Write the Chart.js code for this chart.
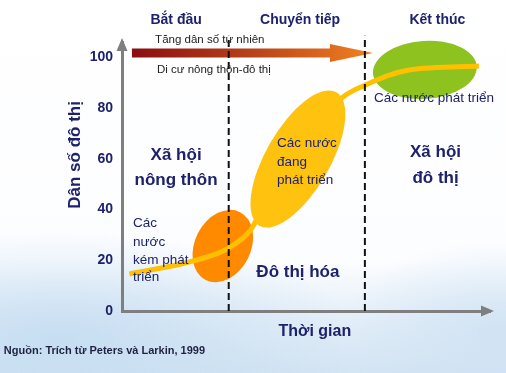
<!DOCTYPE html>
<html>
<head>
<meta charset="utf-8">
<script src="https://cdn.jsdelivr.net/npm/chart.js@4/dist/chart.umd.min.js"></script>
<style>
  html, body { margin: 0; padding: 0; }
  body {
    width: 506px; height: 373px; overflow: hidden;
    background:
      radial-gradient(ellipse 300px 110px at 60px 340px, rgba(196, 220, 241, 0.9) 0%, rgba(196, 220, 241, 0) 100%),
      radial-gradient(ellipse 160px 90px at 500px 330px, rgba(205, 225, 243, 0.8) 0%, rgba(205, 225, 243, 0) 100%),
      linear-gradient(to bottom, #ffffff 0%, #fcfdff 70%, #e6f0f9 84%, #d3e4f3 100%);
  }
  #wrap { position: relative; width: 506px; height: 373px; }
</style>
</head>
<body>
<div id="wrap"><canvas id="chart"></canvas></div>
<script>
// duong cong ty le dan so do thi theo thoi gian
const timeX = [2, 16, 24, 29, 35, 38, 48, 59, 66, 78, 97];
const urbanPct = [14.6, 18.5, 21.7, 24.8, 32, 40, 61, 83, 89, 95, 96.5];
const yTicks = [0, 20, 40, 60, 80, 100];
const phaseLines = [29, 66]; // ranh gioi cac giai doan

const navy = "#1d226b";
const sans = "'Liberation Sans', Arial, sans-serif";

// cac vung mau (toa do theo du lieu)
const blobs = [
  { x: 27.4, y: 25.6, rx: 38, ry: 28, rot: -63, color: "#ff8a00" },
  { x: 82.3, y: 95.0, rx: 52, ry: 29, rot: -4, color: "#8dc21f" },
  { x: 47.8, y: 59.9, rx: 77, ry: 32, rot: -60, color: "#ffc20e" },
];

// mui ten gradient
const arrow = { from: 2.7, body: 56.5, tip: 68.2, y: 101.7 };

// chu thich
const labels = [
  { t: "Bắt đầu", x: 14.7, y: 114.7, size: 14, bold: true, align: "center" },
  { t: "Chuyển tiếp", x: 48.4, y: 114.7, size: 14, bold: true, align: "center" },
  { t: "Kết thúc", x: 85.7, y: 114.7, size: 14, bold: true, align: "center" },
  { t: "Tăng dân số tự nhiên", x: 9.0, y: 106.8, size: 11.5, color: "#222", align: "left" },
  { t: "Di cư nông thôn-đô thị", x: 9.5, y: 95.2, size: 11.5, color: "#222", align: "left" },
  { t: "Xã hội", x: 14.7, y: 61.5, size: 17, bold: true, align: "center" },
  { t: "nông thôn", x: 14.7, y: 51.6, size: 17, bold: true, align: "center" },
  { t: "Xã hội", x: 85.2, y: 62.6, size: 17, bold: true, align: "center" },
  { t: "đô thị", x: 85.2, y: 52.4, size: 17, bold: true, align: "center" },
  { t: "Đô thị hóa", x: 47.8, y: 15.4, size: 17, bold: true, align: "center" },
  { t: "Các nước phát triển", x: 68.5, y: 83.9, size: 13.5, align: "left" },
  { t: "Các nước", x: 42.1, y: 66.2, size: 13.5, align: "left" },
  { t: "đang", x: 42.1, y: 58.7, size: 13.5, align: "left" },
  { t: "phát triển", x: 42.1, y: 51.6, size: 13.5, align: "left" },
  { t: "Các", x: 3.0, y: 34.7, size: 13.5, align: "left" },
  { t: "nước", x: 3.0, y: 27.2, size: 13.5, align: "left" },
  { t: "kém phát", x: 3.0, y: 20.1, size: 13.5, align: "left" },
  { t: "triển", x: 3.0, y: 13.4, size: 13.5, align: "left" },
  { t: "Thời gian", x: 52.4, y: -8.3, size: 16, bold: true, align: "center" },
  { t: "Nguồn: Trích từ Peters và Larkin, 1999", x: -32.1, y: -15.6, size: 11, bold: true, color: "#1e2240", align: "left" },
];
const yTitle = { t: "Dân số đô thị", x: -12.8, y: 61.5, size: 17 };

function drawBlob(chart, b) {
  const { ctx, scales } = chart;
  ctx.save();
  ctx.fillStyle = b.color;
  ctx.beginPath();
  ctx.ellipse(scales.x.getPixelForValue(b.x), scales.y.getPixelForValue(b.y),
    b.rx, b.ry, b.rot * Math.PI / 180, 0, Math.PI * 2);
  ctx.fill();
  ctx.restore();
}

const decor = {
  id: "decor",
  beforeDatasetsDraw(chart) {
    const { ctx, scales } = chart;
    const xs = scales.x, ys = scales.y;
    const x0 = xs.getPixelForValue(arrow.from);
    const x1 = xs.getPixelForValue(arrow.body);
    const x2 = xs.getPixelForValue(arrow.tip);
    const yc = ys.getPixelForValue(arrow.y);
    const g = ctx.createLinearGradient(x0, 0, x2, 0);
    g.addColorStop(0, "#890f10");
    g.addColorStop(0.5, "#b8421a");
    g.addColorStop(1, "#f28220");
    ctx.save();
    ctx.fillStyle = g;
    ctx.beginPath();
    ctx.moveTo(x0, yc - 4.5);
    ctx.lineTo(x1, yc - 4.5);
    ctx.lineTo(x1, yc - 9);
    ctx.lineTo(x2, yc);
    ctx.lineTo(x1, yc + 9);
    ctx.lineTo(x1, yc + 4.5);
    ctx.lineTo(x0, yc + 4.5);
    ctx.closePath();
    ctx.fill();
    ctx.restore();
    drawBlob(chart, blobs[0]);
    drawBlob(chart, blobs[1]);
  },
  afterDatasetDraw(chart, args) {
    if (args.index === 0) drawBlob(chart, blobs[2]);
  },
  afterDraw(chart) {
    const { ctx, scales, chartArea } = chart;
    const xs = scales.x, ys = scales.y;
    ctx.save();
    // dau mui ten truc
    ctx.fillStyle = "#7f7f7f";
    ctx.beginPath();
    ctx.moveTo(chartArea.left, chartArea.top - 4);
    ctx.lineTo(chartArea.left - 5.5, chartArea.top + 9);
    ctx.lineTo(chartArea.left + 5.5, chartArea.top + 9);
    ctx.closePath();
    ctx.fill();
    ctx.beginPath();
    ctx.moveTo(chartArea.right + 4, chartArea.bottom);
    ctx.lineTo(chartArea.right - 9, chartArea.bottom - 5.5);
    ctx.lineTo(chartArea.right - 9, chartArea.bottom + 5.5);
    ctx.closePath();
    ctx.fill();

    ctx.textBaseline = "middle";
    labels.forEach(l => {
      ctx.font = (l.bold ? "bold " : "") + l.size + "px " + sans;
      ctx.fillStyle = l.color || navy;
      ctx.textAlign = l.align;
      ctx.fillText(l.t, xs.getPixelForValue(l.x), ys.getPixelForValue(l.y));
    });

    ctx.translate(xs.getPixelForValue(yTitle.x), ys.getPixelForValue(yTitle.y));
    ctx.rotate(-Math.PI / 2);
    ctx.font = "bold " + yTitle.size + "px " + sans;
    ctx.fillStyle = navy;
    ctx.textAlign = "center";
    ctx.fillText(yTitle.t, 0, 0);
    ctx.restore();
  },
};

const ctx = document.getElementById("chart").getContext("2d");
const chart = new Chart(ctx, {
  type: "line",
  data: {
    datasets: [
      {
        label: "Dân số đô thị",
        data: timeX.map((x, i) => ({ x: x, y: urbanPct[i] })),
        borderColor: "#ffc000",
        borderWidth: 5,
        pointRadius: 0,
        cubicInterpolationMode: "monotone",
        order: 2,
      },
      ...phaseLines.map(p => ({
        label: "ranh giới",
        data: [{ x: p, y: 0 }, { x: p, y: 108.5 }],
        borderColor: "#111",
        borderWidth: 2,
        borderDash: [7, 4],
        pointRadius: 0,
        clip: false,
        order: 1,
      })),
    ],
  },
  options: {
    responsive: true,
    maintainAspectRatio: false,
    animation: false,
    layout: { padding: { top: 42, right: 16, left: 0, bottom: 0 } },
    plugins: {
      legend: { display: false },
      tooltip: { enabled: false },
    },
    scales: {
      x: {
        type: "linear",
        min: 0,
        max: 100,
        afterFit: s => { s.height = 62; },
        grid: { display: false, drawTicks: false },
        border: { display: true, color: "#7f7f7f", width: 3 },
        ticks: { display: false },
      },
      y: {
        min: 0,
        max: 106,
        afterBuildTicks: s => { s.ticks = yTicks.map(v => ({ value: v })); },
        afterFit: s => { s.width = 122; },
        grid: { display: false, drawTicks: false },
        border: { display: true, color: "#7f7f7f", width: 3 },
        ticks: {
          padding: 9,
          color: navy,
          font: { family: "'Liberation Sans Narrow', 'Liberation Sans', sans-serif", size: 14, weight: "bold" },
        },
      },
    },
  },
  plugins: [decor],
});
</script>
</body>
</html>
